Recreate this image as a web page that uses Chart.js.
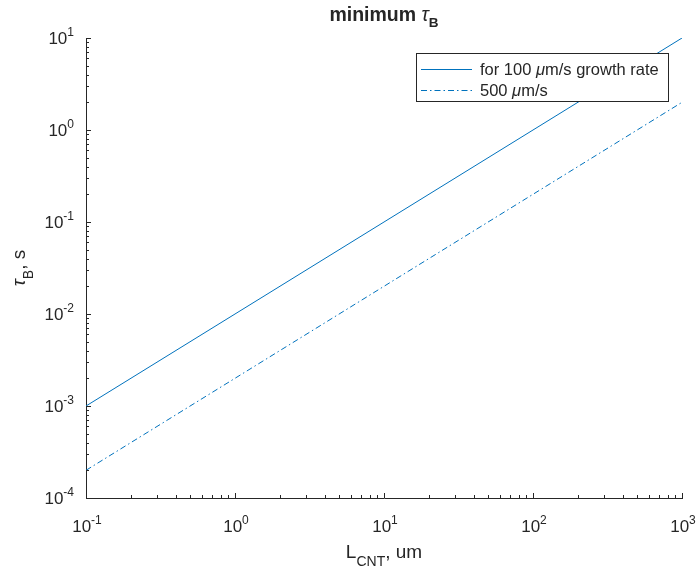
<!DOCTYPE html>
<html>
<head>
<meta charset="utf-8">
<title>minimum tau_B</title>
<script src="https://cdn.jsdelivr.net/npm/chart.js@4.4.0/dist/chart.umd.min.js"></script>
<style>
    html, body { margin: 0; padding: 0; background: #fff; }
    canvas { display: block; }
</style>
</head>
<body>
<canvas id="tauChart" width="699" height="577"></canvas>
<script>
// CNT length (um) and minimum tau_B (s) for two growth rates
const lengths = [0.1, 1, 10, 100, 1000];
const tau100 = [0.001, 0.01, 0.1, 1, 10];
const tau500 = [0.0002, 0.002, 0.02, 0.2, 2];
const seriesLabels = ['for 100 μm/s growth rate', '500 μm/s'];

// decade exponents used for the tick labels
const xDecades = [-1, 0, 1, 2, 3];
const yDecades = [-4, -3, -2, -1, 0, 1];

const FONT = '"Liberation Sans", Arial, Helvetica, sans-serif';
const TEXT = '#262626';
const LINE = '#0072BD';
const DASHDOT = [6, 3, 1.5, 3];

// draw a row of text pieces with their own fonts / vertical offsets
function drawRuns(ctx, runs, x, y, align) {
    let total = 0;
    runs.forEach(r => {
        ctx.font = r.font;
        r.w = ctx.measureText(r.text).width;
        total += r.w;
    });
    let cx = x;
    if (align === 'center') cx = x - total / 2;
    if (align === 'right') cx = x - total;
    ctx.textAlign = 'left';
    ctx.textBaseline = 'alphabetic';
    runs.forEach(r => {
        ctx.font = r.font;
        ctx.fillText(r.text, cx, y + (r.dy || 0));
        cx += r.w;
    });
}

// greek letters rendered italic like TeX
function greekRuns(text, size) {
    return text.split(/([μτ])/).filter(s => s.length).map(s => ({
        text: s,
        font: (/[μτ]/.test(s) ? 'italic ' : '') + size + 'px ' + FONT
    }));
}

function powerRuns(exp) {
    return [
        { text: '10', font: '17px ' + FONT },
        { text: String(exp), font: '12px ' + FONT, dy: -8 }
    ];
}

// ticks inside the axes, power-of-ten labels, titles and legend
const axesDecor = {
    id: 'axesDecor',
    afterDraw(chart) {
        const ctx = chart.ctx;
        const area = chart.chartArea;
        const xs = chart.scales.x;
        const ys = chart.scales.y;
        ctx.save();
        ctx.strokeStyle = TEXT;
        ctx.fillStyle = TEXT;
        ctx.lineWidth = 1;

        // tick marks
        ctx.beginPath();
        for (let e = xDecades[0]; e <= xDecades[xDecades.length - 1]; e++) {
            for (let m = 1; m <= 9; m++) {
                const v = m * Math.pow(10, e);
                if (v > xs.max * 1.0001) break;
                const px = Math.round(xs.getPixelForValue(v)) + 0.5;
                const len = m === 1 ? 5 : 3;
                ctx.moveTo(px, area.bottom);
                ctx.lineTo(px, area.bottom - len);
            }
        }
        for (let e = yDecades[0]; e <= yDecades[yDecades.length - 1]; e++) {
            for (let m = 1; m <= 9; m++) {
                const v = m * Math.pow(10, e);
                if (v > ys.max * 1.0001) break;
                const py = Math.round(ys.getPixelForValue(v)) + 0.5;
                const len = m === 1 ? 5 : 3;
                ctx.moveTo(area.left, py);
                ctx.lineTo(area.left + len, py);
            }
        }
        ctx.stroke();

        // tick labels
        xDecades.forEach(e => {
            const px = xs.getPixelForValue(Math.pow(10, e));
            drawRuns(ctx, powerRuns(e), px + 1, area.bottom + 34, 'center');
        });
        yDecades.forEach(e => {
            const py = ys.getPixelForValue(Math.pow(10, e));
            drawRuns(ctx, powerRuns(e), area.left - 12, py + 6, 'right');
        });

        // title
        const midX = (area.left + area.right) / 2;
        drawRuns(ctx, [
            { text: 'minimum ', font: 'bold 19.5px ' + FONT },
            { text: 'τ', font: 'italic 19.5px ' + FONT },
            { text: 'B', font: 'bold 13.5px ' + FONT, dy: 6 }
        ], midX, 21, 'center');

        // x axis title
        drawRuns(ctx, [
            { text: 'L', font: '19px ' + FONT },
            { text: 'CNT', font: '14px ' + FONT, dy: 8 },
            { text: ', um', font: '19px ' + FONT }
        ], midX, 558, 'center');

        // y axis title
        ctx.save();
        ctx.translate(25, (area.top + area.bottom) / 2);
        ctx.rotate(-Math.PI / 2);
        drawRuns(ctx, [
            { text: 'τ', font: 'italic 19px ' + FONT },
            { text: 'B', font: '14px ' + FONT, dy: 8 },
            { text: ', s', font: '19px ' + FONT }
        ], 0, 0, 'center');
        ctx.restore();

        // legend
        const box = { x: 416.5, y: 53.5, w: 252, h: 48 };
        ctx.fillStyle = '#fff';
        ctx.fillRect(box.x, box.y, box.w, box.h);
        ctx.strokeStyle = TEXT;
        ctx.strokeRect(box.x, box.y, box.w, box.h);
        chart.data.datasets.forEach((ds, i) => {
            const rowY = 69 + i * 21;
            ctx.strokeStyle = ds.borderColor;
            ctx.setLineDash(ds.borderDash || []);
            ctx.beginPath();
            ctx.moveTo(421, rowY + 0.5);
            ctx.lineTo(472, rowY + 0.5);
            ctx.stroke();
            ctx.setLineDash([]);
            ctx.fillStyle = TEXT;
            drawRuns(ctx, greekRuns(ds.label, 16.5), 480, rowY + 6, 'left');
        });
        ctx.restore();
    }
};

const toPoints = ys => lengths.map((x, i) => ({ x: x, y: ys[i] }));

new Chart(document.getElementById('tauChart').getContext('2d'), {
    type: 'line',
    data: {
        datasets: [{
            label: seriesLabels[0],
            data: toPoints(tau100),
            borderColor: LINE,
            borderWidth: 1,
            pointRadius: 0,
            fill: false
        }, {
            label: seriesLabels[1],
            data: toPoints(tau500),
            borderColor: LINE,
            borderWidth: 1,
            borderDash: DASHDOT,
            pointRadius: 0,
            fill: false
        }]
    },
    options: {
        responsive: false,
        animation: false,
        devicePixelRatio: 1,
        layout: { padding: { left: 86, right: 17, top: 38, bottom: 79 } },
        plugins: {
            legend: { display: false },
            title: { display: false },
            tooltip: { enabled: false }
        },
        scales: {
            x: {
                type: 'logarithmic',
                min: 0.1,
                max: 1000,
                ticks: { display: false },
                grid: { display: false, drawTicks: false },
                border: { display: true, color: TEXT, width: 1 },
                afterFit: s => { s.height = 0; }
            },
            y: {
                type: 'logarithmic',
                min: 0.0001,
                max: 10,
                ticks: { display: false },
                grid: { display: false, drawTicks: false },
                border: { display: true, color: TEXT, width: 1 },
                afterFit: s => { s.width = 0; }
            }
        }
    },
    plugins: [axesDecor]
});
</script>
</body>
</html>
